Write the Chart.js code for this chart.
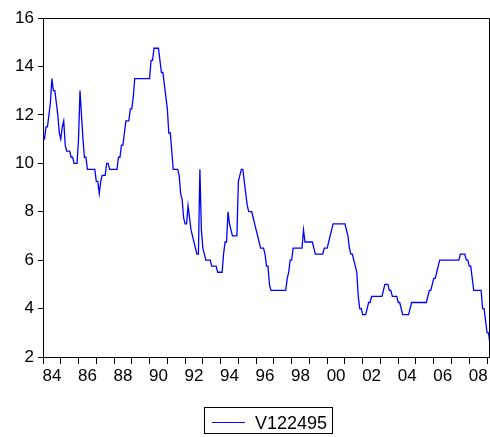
<!DOCTYPE html>
<html>
<head>
<meta charset="utf-8">
<script src="https://cdn.jsdelivr.net/npm/chart.js@4.4.0/dist/chart.umd.min.js"></script>
<style>
  html, body { margin: 0; padding: 0; background: #ffffff; }
  canvas { display: block; }
</style>
</head>
<body>
<canvas id="chart" width="490" height="437"></canvas>
<script>
// Chartered bank prime business rate, monthly, January 1984 onwards
const seriesName = 'V122495';
const startYear = 1984;

const rates = [
  // 1984
  11.0, 11.0, 11.5, 11.5, 12.0, 12.5, 13.5, 13.0, 13.0, 12.5, 12.0, 11.25,
  // 1985
  11.0, 11.5, 11.75, 10.75, 10.5, 10.5, 10.5, 10.25, 10.25, 10.0, 10.0, 10.0,
  // 1986
  11.0, 13.0, 12.0, 11.0, 10.25, 10.25, 9.75, 9.75, 9.75, 9.75, 9.75, 9.75,
  // 1987
  9.25, 9.25, 8.75, 9.25, 9.5, 9.5, 9.5, 10.0, 10.0, 9.75, 9.75, 9.75,
  // 1988
  9.75, 9.75, 9.75, 10.25, 10.25, 10.75, 10.75, 11.25, 11.75, 11.75, 11.75, 12.25,
  // 1989
  12.25, 12.75, 13.5, 13.5, 13.5, 13.5, 13.5, 13.5, 13.5, 13.5, 13.5, 13.5,
  // 1990
  13.5, 14.25, 14.25, 14.75, 14.75, 14.75, 14.75, 14.25, 13.75, 13.75, 13.25, 12.75,
  // 1991
  12.25, 11.25, 11.25, 10.5, 9.75, 9.75, 9.75, 9.75, 9.5, 8.75, 8.5, 7.75,
  // 1992
  7.5, 7.5, 8.25, 7.75, 7.25, 7.0, 6.75, 6.5, 6.25, 6.25, 9.75, 7.25,
  // 1993
  6.5, 6.25, 6.0, 6.0, 6.0, 6.0, 5.75, 5.75, 5.75, 5.75, 5.5, 5.5,
  // 1994
  5.5, 5.5, 6.25, 6.75, 6.75, 8.0, 7.5, 7.25, 7.0, 7.0, 7.0, 7.0,
  // 1995
  9.25, 9.5, 9.75, 9.75, 9.25, 8.75, 8.25, 8.0, 8.0, 8.0, 7.75, 7.5,
  // 1996
  7.25, 7.0, 6.75, 6.5, 6.5, 6.5, 6.25, 5.75, 5.75, 5.0, 4.75, 4.75,
  // 1997
  4.75, 4.75, 4.75, 4.75, 4.75, 4.75, 4.75, 4.75, 4.75, 5.25, 5.5, 6.0,
  // 1998
  6.0, 6.5, 6.5, 6.5, 6.5, 6.5, 6.5, 6.5, 7.25, 6.75, 6.75, 6.75,
  // 1999
  6.75, 6.75, 6.75, 6.5, 6.25, 6.25, 6.25, 6.25, 6.25, 6.25, 6.5, 6.5,
  // 2000
  6.5, 6.75, 7.0, 7.25, 7.5, 7.5, 7.5, 7.5, 7.5, 7.5, 7.5, 7.5,
  // 2001
  7.5, 7.25, 7.0, 6.5, 6.25, 6.25, 6.0, 5.75, 5.5, 4.5, 4.0, 4.0,
  // 2002
  3.75, 3.75, 3.75, 4.0, 4.25, 4.25, 4.5, 4.5, 4.5, 4.5, 4.5, 4.5,
  // 2003
  4.5, 4.5, 4.75, 5.0, 5.0, 5.0, 4.75, 4.75, 4.5, 4.5, 4.5, 4.5,
  // 2004
  4.25, 4.25, 4.0, 3.75, 3.75, 3.75, 3.75, 3.75, 4.0, 4.25, 4.25, 4.25,
  // 2005
  4.25, 4.25, 4.25, 4.25, 4.25, 4.25, 4.25, 4.25, 4.5, 4.75, 4.75, 5.0,
  // 2006
  5.25, 5.25, 5.5, 5.75, 6.0, 6.0, 6.0, 6.0, 6.0, 6.0, 6.0, 6.0,
  // 2007
  6.0, 6.0, 6.0, 6.0, 6.0, 6.0, 6.25, 6.25, 6.25, 6.25, 6.0, 6.0,
  // 2008
  5.75, 5.75, 5.25, 4.75, 4.75, 4.75, 4.75, 4.75, 4.75, 4.0, 4.0, 3.5,
  // 2009
  3.0, 3.0, 2.5
];

const yTickValues = [2, 4, 6, 8, 10, 12, 14, 16];
const yearTickValues = [1984, 1985, 1986, 1987, 1988, 1989, 1990, 1991, 1992,
  1993, 1994, 1995, 1996, 1997, 1998, 1999, 2000, 2001, 2002, 2003, 2004,
  2005, 2006, 2007, 2008, 2009];
const yearLabels = {
  1984: '84', 1986: '86', 1988: '88', 1990: '90', 1992: '92', 1994: '94',
  1996: '96', 1998: '98', 2000: '00', 2002: '02', 2004: '04', 2006: '06', 2008: '08'
};

const points = rates.map((v, i) => ({ x: startYear + i / 12, y: v }));
const lastX = startYear + (rates.length - 1) / 12;

const FONT = 'Liberation Sans, Arial, sans-serif';

// Box frame on the top and right sides of the plot
const framePlugin = {
  id: 'frame',
  afterDraw(chart) {
    const { ctx, chartArea: a } = chart;
    ctx.save();
    ctx.strokeStyle = '#000000';
    ctx.lineWidth = 1;
    ctx.beginPath();
    ctx.moveTo(a.left, a.top + 0.5);
    ctx.lineTo(a.right - 0.5, a.top + 0.5);
    ctx.lineTo(a.right - 0.5, a.bottom);
    ctx.stroke();
    ctx.restore();
  }
};

// Boxed legend under the axis
const boxLegendPlugin = {
  id: 'boxLegend',
  afterDraw(chart) {
    const { ctx } = chart;
    const ds = chart.data.datasets[0];
    ctx.save();
    ctx.strokeStyle = '#000000';
    ctx.lineWidth = 1;
    ctx.strokeRect(204.5, 407.5, 128, 26);
    ctx.strokeStyle = ds.borderColor;
    ctx.lineWidth = 1;
    ctx.beginPath();
    ctx.moveTo(212, 422.5);
    ctx.lineTo(245, 422.5);
    ctx.stroke();
    ctx.fillStyle = '#000000';
    ctx.font = '18px ' + FONT;
    ctx.textBaseline = 'alphabetic';
    ctx.textAlign = 'left';
    ctx.fillText(ds.label, 255, 429);
    ctx.restore();
  }
};

new Chart(document.getElementById('chart'), {
  type: 'line',
  data: {
    datasets: [{
      label: seriesName,
      data: points,
      borderColor: '#0000FF',
      borderWidth: 1.3,
      pointRadius: 0,
      tension: 0,
      fill: false
    }]
  },
  options: {
    responsive: false,
    animation: false,
    devicePixelRatio: 1,
    layout: { padding: { top: 18, right: 0, bottom: 0, left: 0 } },
    plugins: {
      legend: { display: false },
      tooltip: { enabled: false }
    },
    scales: {
      x: {
        type: 'linear',
        min: startYear,
        max: lastX,
        afterBuildTicks(scale) {
          scale.ticks = yearTickValues.map(v => ({ value: v }));
        },
        afterFit(scale) { scale.height = 80; },
        border: { display: true, color: '#000000', width: 1 },
        grid: { drawOnChartArea: false, tickLength: 7, color: '#000000' },
        ticks: {
          autoSkip: false,
          maxRotation: 0,
          minRotation: 0,
          padding: 2,
          labelOffset: 8.9,
          color: '#000000',
          font: { family: FONT, size: 17 },
          callback: (v) => yearLabels[v] || ''
        }
      },
      y: {
        min: 2,
        max: 16,
        afterBuildTicks(scale) {
          scale.ticks = yTickValues.map(v => ({ value: v }));
        },
        afterFit(scale) { scale.width = 43; },
        border: { display: true, color: '#000000', width: 1 },
        grid: { drawOnChartArea: false, tickLength: 5, color: '#000000' },
        ticks: {
          padding: 4,
          color: '#000000',
          font: { family: FONT, size: 17 },
          callback: (v) => String(v)
        }
      }
    }
  },
  plugins: [framePlugin, boxLegendPlugin]
});
</script>
</body>
</html>
